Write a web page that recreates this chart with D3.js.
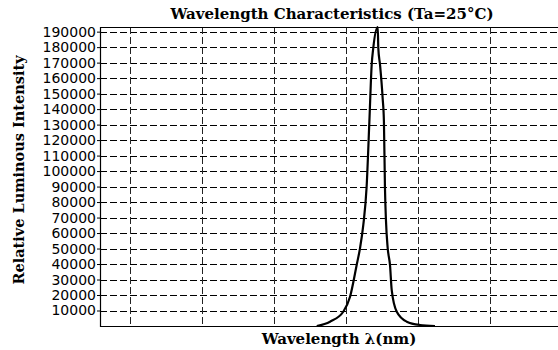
<!DOCTYPE html>
<html>
<head>
<meta charset="utf-8">
<script src="https://cdn.jsdelivr.net/npm/d3@7"></script>
<style>
  body { margin: 0; background: #fff; }
  svg { display: block; }
</style>
</head>
<body>
<svg id="chart" width="558" height="350"></svg>
<script>
// spectrum trace (nm, relative intensity)
const wavelengths = [479.5, 488.7, 497.9, 502.6, 507.2, 509.5, 511.8, 514.1, 516.0, 517.6, 518.7, 521.8,
                     522.2, 523.4, 525.2, 526.1, 526.8, 527.5, 528.7, 530.3, 531.5, 535.0, 541.9, 551.1, 561.5];
const intensities = [0, 2800, 9200, 18900, 39400, 50150, 65200, 89900, 131900, 168500, 179400, 193000,
                     179400, 168500, 147200, 131900, 89900, 68400, 50350, 39400, 23200, 9200, 2800, 650, 0];
const yTicks = [10000, 20000, 30000, 40000, 50000, 60000, 70000, 80000, 90000, 100000,
                110000, 120000, 130000, 140000, 150000, 160000, 170000, 180000, 190000];
const xGrid = [350, 400, 450, 500, 550, 600];

const plotLeft = 100, plotTop = 27, plotBottom = 326, plotRight = 560;

const svg = d3.select('#chart');

const x = d3.scaleLinear().domain([329.2, 648.2]).range([plotLeft, plotRight]);
const y = d3.scaleLinear().domain([0, 193000]).range([plotBottom, plotTop]);

// horizontal dashed grid
svg.append('g')
  .selectAll('line')
  .data(yTicks)
  .enter().append('line')
  .attr('x1', plotLeft).attr('x2', plotRight)
  .attr('y1', d => Math.round(y(d)) + 0.5).attr('y2', d => Math.round(y(d)) + 0.5)
  .attr('stroke', '#000')
  .attr('stroke-width', 1)
  .attr('stroke-dasharray', '7,3');

// vertical dashed grid
svg.append('g')
  .selectAll('line')
  .data(xGrid)
  .enter().append('line')
  .attr('x1', d => Math.round(x(d)) + 0.5).attr('x2', d => Math.round(x(d)) + 0.5)
  .attr('y1', plotTop).attr('y2', plotBottom)
  .attr('stroke', '#222')
  .attr('stroke-width', 1)
  .attr('stroke-dasharray', '7,3');

// frame: left, top, bottom
svg.append('path')
  .attr('d', `M${plotRight},${plotTop + 0.5}H${plotLeft + 0.5}V${plotBottom + 0.5}H${plotRight}`)
  .attr('fill', 'none')
  .attr('stroke', '#000')
  .attr('stroke-width', 1.2);

// y axis labels
const leftAxis = d3.axisLeft(y).tickValues(yTicks).tickSize(3).tickPadding(1).tickFormat(d3.format('d'));
const gy = svg.append('g')
  .attr('transform', `translate(${plotLeft},0)`)
  .call(leftAxis);
gy.select('.domain').remove();
gy.selectAll('text')
  .style('font-family', '"DejaVu Sans", sans-serif')
  .style('font-size', '14px')
  .attr('fill', '#000');

// spectrum curve
const line = d3.line()
  .x((d, i) => x(wavelengths[i]))
  .y(d => y(d))
  .curve(d3.curveMonotoneX);

svg.append('path')
  .datum(intensities)
  .attr('d', line)
  .attr('fill', 'none')
  .attr('stroke', '#000')
  .attr('stroke-width', 2.2)
  .attr('stroke-linejoin', 'round');

// titles
svg.append('text')
  .attr('x', 332)
  .attr('y', 19)
  .attr('text-anchor', 'middle')
  .style('font-family', '"DejaVu Serif", serif')
  .style('font-weight', 'bold')
  .style('font-size', '15px')
  .text('Wavelength Characteristics (Ta=25°C)');

svg.append('text')
  .attr('transform', 'translate(24,170) rotate(-90)')
  .attr('text-anchor', 'middle')
  .style('font-family', '"DejaVu Serif", serif')
  .style('font-weight', 'bold')
  .style('font-size', '14.5px')
  .text('Relative Luminous Intensity');

svg.append('text')
  .attr('x', 339)
  .attr('y', 344)
  .attr('text-anchor', 'middle')
  .style('font-family', '"DejaVu Serif", serif')
  .style('font-weight', 'bold')
  .style('font-size', '15px')
  .text('Wavelength  λ(nm)');
</script>
</body>
</html>
